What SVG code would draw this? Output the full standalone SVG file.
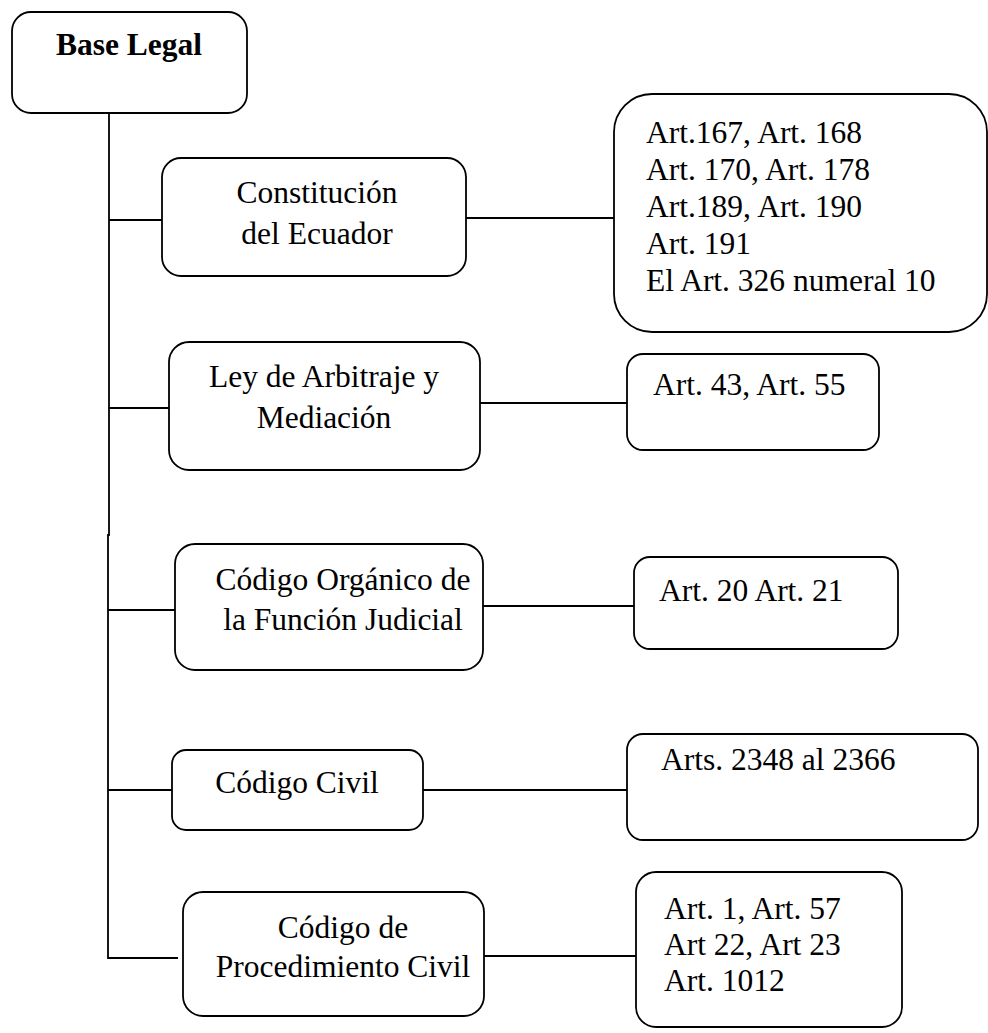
<svg xmlns="http://www.w3.org/2000/svg" width="988" height="1033" viewBox="0 0 988 1033">
<style>
.box{fill:#fff;stroke:#000;stroke-width:1.8}
.ln{stroke:#000;stroke-width:1.8;fill:none}
text{font-family:"Liberation Serif","Times New Roman",serif;font-size:31.5px;fill:#000}
.c{text-anchor:middle}
.b{font-weight:bold}
</style>
<rect width="988" height="1033" fill="#fff"/>
<g id="connectors">
<path class="ln" d="M109,113 V536"/>
<path class="ln" d="M108,534 V958 H178"/>
<path class="ln" d="M109,220 H162"/>
<path class="ln" d="M466,218 H614"/>
<path class="ln" d="M109,408 H169"/>
<path class="ln" d="M480,403 H627"/>
<path class="ln" d="M108,610 H175"/>
<path class="ln" d="M483,606 H634"/>
<path class="ln" d="M108,790 H172"/>
<path class="ln" d="M423,790 H627"/>
<path class="ln" d="M484,956 H636"/>
</g>
<g id="base-legal">
<rect class="box" x="12" y="12" width="235" height="101" rx="19"/>
<text class="c b" x="129" y="55">Base Legal</text>
</g>
<g id="constitucion">
<rect class="box" x="162" y="158" width="304" height="118" rx="19"/>
<text class="c" x="317" y="203">Constitución</text>
<text class="c" x="317" y="244">del Ecuador</text>
</g>
<g id="arts-constitucion">
<rect class="box" x="614" y="94" width="373" height="238" rx="38"/>
<text x="646" y="143">Art.167, Art. 168</text>
<text x="646" y="180">Art. 170, Art. 178</text>
<text x="646" y="217">Art.189, Art. 190</text>
<text x="646" y="254">Art. 191</text>
<text x="646" y="291">El Art. 326 numeral 10</text>
</g>
<g id="ley-arbitraje">
<rect class="box" x="169" y="342" width="311" height="128" rx="20"/>
<text class="c" x="324" y="387">Ley de Arbitraje y</text>
<text class="c" x="324" y="428">Mediación</text>
</g>
<g id="arts-ley">
<rect class="box" x="627" y="354" width="252" height="96" rx="16"/>
<text x="653" y="395">Art. 43, Art. 55</text>
</g>
<g id="codigo-organico">
<rect class="box" x="175" y="544" width="308" height="126" rx="20"/>
<text class="c" x="343" y="590">Código Orgánico de</text>
<text class="c" x="343" y="630">la Función Judicial</text>
</g>
<g id="arts-organico">
<rect class="box" x="634" y="557" width="264" height="92" rx="16"/>
<text x="659" y="601">Art. 20 Art. 21</text>
</g>
<g id="codigo-civil">
<rect class="box" x="172" y="750" width="251" height="80" rx="14"/>
<text class="c" x="297" y="793">Código Civil</text>
</g>
<g id="arts-civil">
<rect class="box" x="627" y="734" width="351" height="106" rx="16"/>
<text x="661" y="770">Arts. 2348 al 2366</text>
</g>
<g id="procedimiento-civil">
<rect class="box" x="183" y="892" width="301" height="124" rx="20"/>
<text class="c" x="343" y="938">Código de</text>
<text class="c" x="343" y="977">Procedimiento Civil</text>
</g>
<g id="arts-procedimiento">
<rect class="box" x="636" y="872" width="266" height="155" rx="20"/>
<text x="664" y="919">Art. 1, Art. 57</text>
<text x="664" y="955">Art 22, Art 23</text>
<text x="664" y="991">Art. 1012</text>
</g>
</svg>
